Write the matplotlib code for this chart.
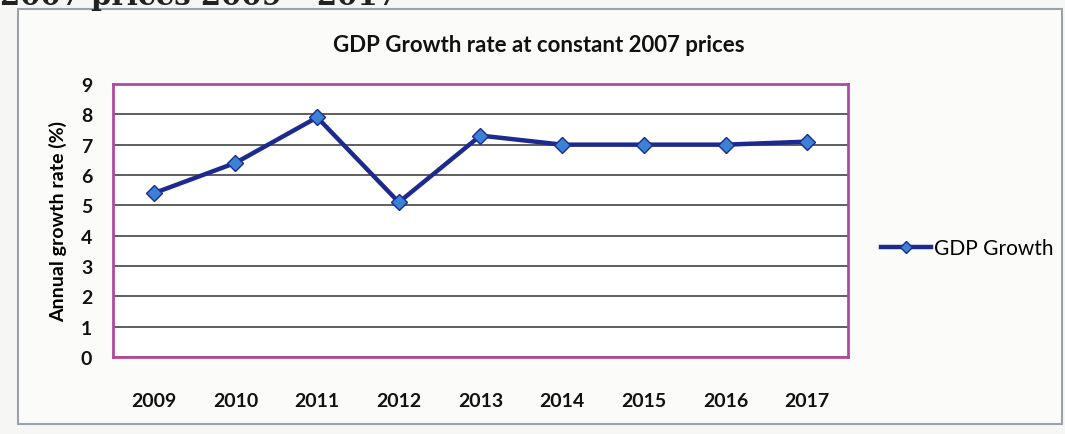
import numpy as np
import matplotlib
matplotlib.use('Agg')
import matplotlib.pyplot as plt
from matplotlib.patches import Rectangle

plt.rcParams['font.family'] = ['Lato', 'DejaVu Sans']

# data
years = ['2009', '2010', '2011', '2012', '2013', '2014', '2015', '2016', '2017']
gdp_growth = [5.4, 6.4, 7.9, 5.1, 7.3, 7.0, 7.0, 7.0, 7.1]
y_ticks = list(range(0, 10))

fig = plt.figure(figsize=(10.65, 4.35), dpi=100, facecolor='#f6f6f4')

# outer chart frame
fig.patches.append(Rectangle((18 / 1065, 10 / 435), 1044 / 1065, 415 / 435,
                             transform=fig.transFigure, facecolor='#fbfbfa',
                             edgecolor='#9aa3ad', lw=1.5, zorder=-5))

# heading of the page, cut off at the top
fig.text(0.0, 1 - 5 / 435, '2007 prices 2009 \u2013 2017', family='DejaVu Serif',
         fontsize=21, fontweight='bold', ha='left', va='baseline', color='#222222')

ax = fig.add_axes([113 / 1065, 1 - 358 / 435, 735 / 1065, 273 / 435])
ax.set_facecolor('white')

x = np.arange(len(years))
ax.plot(x, gdp_growth, color='#1c2a8f', lw=3.2, marker='D', markersize=8,
        markerfacecolor='#3b82d6', markeredgecolor='#1c2a8f', markeredgewidth=1,
        label='GDP Growth', zorder=3)

ax.set_xlim(-0.5, len(years) - 0.5)
ax.set_ylim(0, 9)
ax.set_yticks(y_ticks)
ax.set_xticks(x)
ax.set_xticklabels(years)
ax.tick_params(axis='both', length=0, labelsize=14, labelcolor='#111111')
ax.tick_params(axis='x', pad=25)
ax.tick_params(axis='y', pad=15)
for lbl in ax.get_xticklabels() + ax.get_yticklabels():
    lbl.set_fontweight('bold')

ax.yaxis.grid(True, color='#333333', lw=1.1)
ax.set_axisbelow(True)
for side in ax.spines.values():
    side.set_color('#b04aa0')
    side.set_linewidth(2)

ax.set_ylabel('Annual growth rate (%)', fontsize=14, fontweight='bold', labelpad=10)
fig.text(539 / 1065, 1 - 45 / 435, 'GDP Growth rate at constant 2007 prices',
         fontsize=16, fontweight='bold', ha='center', va='center', color='#111111')

ax.legend(loc='center left', bbox_to_anchor=(1.02, 0.4), frameon=False,
          handlelength=2.4, handletextpad=0.1, markerscale=0.8,
          prop={'weight': 'normal', 'size': 15})

fig.savefig('out.png', dpi=100, facecolor=fig.get_facecolor())
